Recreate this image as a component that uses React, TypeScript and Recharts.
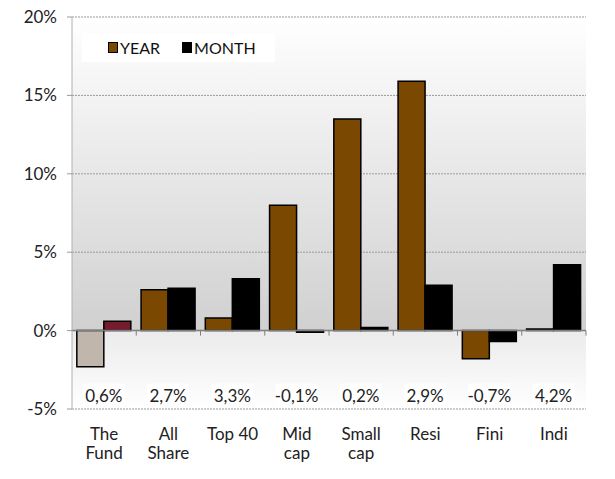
import { BarChart, Bar, XAxis, YAxis, CartesianGrid, ReferenceLine, LabelList, Cell } from "recharts";

const categories = ["The\nFund", "All\nShare", "Top 40", "Mid\ncap", "Small\ncap", "Resi", "Fini", "Indi"];
const yearValues = [-2.3, 2.6, 0.8, 8.0, 13.5, 15.9, -1.8, 0.1];
const monthValues = [0.6, 2.7, 3.3, -0.1, 0.2, 2.9, -0.7, 4.2];
const yTicks = [-5, 0, 5, 10, 15, 20];
const seriesNames = ["YEAR", "MONTH"];

const FONT = "Lato, 'Open Sans', sans-serif";
const YEAR_COLOR = "#7a4800";
const MONTH_COLOR = "#000000";
const FUND_YEAR = "#c0b6ab";
const FUND_MONTH = "#771a2e";

const data = categories.map((name, i) => ({ name, year: yearValues[i], month: monthValues[i] }));

const fmt = (v: number) => v.toFixed(1).replace(".", ",") + "%";

function XTick({ x, y, payload }: any) {
  const lines = String(payload.value).split("\n");
  return (
    <text x={x} y={y} textAnchor="middle" fill="#222" fontSize={17} fontFamily={FONT}>
      {lines.map((l, i) => (
        <tspan key={i} x={x} dy={i === 0 ? 23 : 19}>
          {l}
        </tspan>
      ))}
    </text>
  );
}

function MonthLabel(props: any) {
  const { x, y, height, value } = props;
  const zeroY = y + height;
  const ty = zeroY + 65;
  return (
    <g>
      <rect x={x - 21} y={ty - 12} width={42} height={24} fill="#fff" />
      <text x={x} y={ty + 6} textAnchor="middle" fill="#222" fontSize={17} fontFamily={FONT}>
        {fmt(value)}
      </text>
    </g>
  );
}

function ZeroLine(props: any) {
  const { x1, y1, x2 } = props;
  const step = (x2 - x1) / categories.length;
  return (
    <g>
      <defs>
        <linearGradient id="plotBg" x1="0" y1="0" x2="0" y2="1">
          <stop offset="0" stopColor="#ffffff" />
          <stop offset="0.8" stopColor="#d0d0d0" />
          <stop offset="0.8" stopColor="#ebebeb" />
          <stop offset="1" stopColor="#ffffff" />
        </linearGradient>
      </defs>
      <line x1={x1} y1={y1} x2={x2} y2={y1} stroke="#7f7f7f" strokeWidth={1.5} />
      {categories.map((_, i) => (
        <line key={i} x1={x1 + step * (i + 1)} y1={y1} x2={x1 + step * (i + 1)} y2={y1 + 5} stroke="#7f7f7f" />
      ))}
    </g>
  );
}

function LegendBox() {
  const colors = [YEAR_COLOR, MONTH_COLOR];
  return (
    <div
      style={{
        position: "absolute",
        left: 82,
        top: 33,
        background: "#fff",
        width: 193,
        height: 29,
        display: "flex",
        alignItems: "center",
        paddingLeft: 26,
        boxSizing: "border-box",
        fontFamily: FONT,
        fontSize: 16,
        color: "#111",
      }}
    >
      {seriesNames.map((n, i) => (
        <span key={n} style={{ display: "flex", alignItems: "center", marginRight: 22 }}>
          <span style={{ width: 8, height: 9, background: colors[i], border: "1px solid #000", marginRight: 2 }} />
          {n}
        </span>
      ))}
    </div>
  );
}

export default function App() {
  return (
    <div style={{ position: "absolute", left: 0, top: 0, background: "#fff", width: 615, height: 479 }}>
      <BarChart
        width={615}
        height={479}
        data={data}
        margin={{ top: 17, right: 29, left: 0, bottom: 0 }}
        barCategoryGap="7.5%"
        barGap={0}
      >
        <CartesianGrid vertical={false} stroke="#9a9a9a" strokeDasharray="2 1" fill="url(#plotBg)" fillOpacity={1} />
        <XAxis dataKey="name" height={70} axisLine={false} tickLine={false} interval={0} tick={<XTick />} />
        <YAxis
          width={72}
          domain={[-5, 20]}
          ticks={yTicks}
          tickFormatter={(v: number) => `${v}%`}
          tick={{ fill: "#222", fontSize: 17, fontFamily: FONT }}
          tickSize={5}
          tickMargin={10}
          stroke="#b0b0b0"
          tickLine={{ stroke: "#9a9a9a" }}
          axisLine={{ stroke: "#b0b0b0" }}
          allowDataOverflow
        />
        <Bar dataKey="year" name="YEAR" fill={YEAR_COLOR} stroke="#000" strokeWidth={1.5} isAnimationActive={false}>
          {data.map((_, i) => (
            <Cell key={i} fill={i === 0 ? FUND_YEAR : YEAR_COLOR} />
          ))}
        </Bar>
        <Bar dataKey="month" name="MONTH" fill={MONTH_COLOR} stroke="#000" strokeWidth={1.5} isAnimationActive={false}>
          {data.map((_, i) => (
            <Cell key={i} fill={i === 0 ? FUND_MONTH : MONTH_COLOR} />
          ))}
          <LabelList dataKey="month" content={<MonthLabel />} />
        </Bar>
        <ReferenceLine y={0} shape={<ZeroLine />} />
      </BarChart>
      <LegendBox />
    </div>
  );
}
